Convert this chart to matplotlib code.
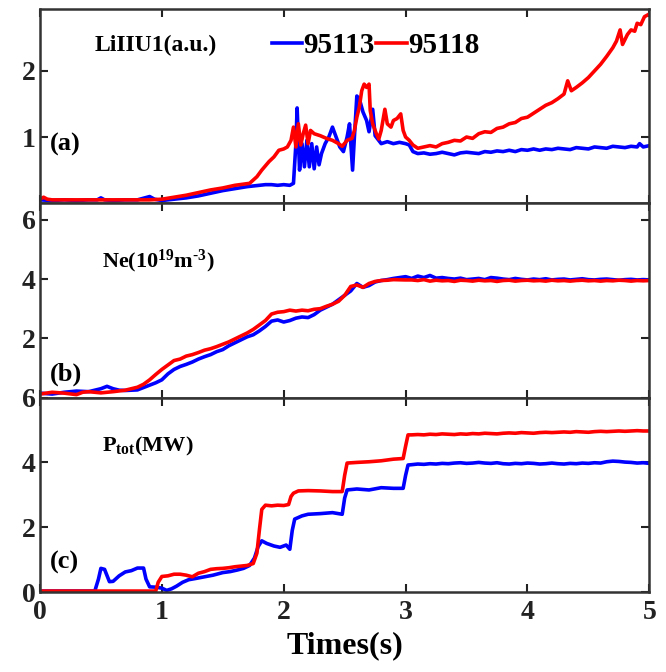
import matplotlib
matplotlib.use('Agg')

import matplotlib.pyplot as plt
import numpy as np

# ---- data ----
# (a) LiIIU1 (a.u.)
ta_113 = [0.0, 0.1, 0.2, 0.3, 0.4, 0.47, 0.5, 0.53, 0.6, 0.7, 0.8, 0.86, 0.9, 0.94, 1.0, 1.05, 1.1,
          1.2, 1.3, 1.4, 1.5, 1.6, 1.7, 1.8, 1.85, 1.9, 1.95, 2.0, 2.05, 2.08, 2.1, 2.11, 2.13, 2.15,
          2.17, 2.19, 2.21, 2.23, 2.25, 2.27, 2.29, 2.31, 2.34, 2.37, 2.4, 2.43, 2.46, 2.49, 2.52,
          2.54, 2.565, 2.58, 2.6, 2.62, 2.65, 2.68, 2.7, 2.73, 2.75, 2.8, 2.85, 2.9, 2.95, 3.0,
          3.03, 3.06, 3.1, 3.15, 3.2, 3.25, 3.3, 3.35, 3.4, 3.45, 3.5, 3.55, 3.6, 3.65, 3.7, 3.75,
          3.8, 3.85, 3.9, 3.95, 4.0, 4.05, 4.1, 4.15, 4.2, 4.25, 4.3, 4.35, 4.4, 4.45, 4.5, 4.55,
          4.6, 4.65, 4.7, 4.75, 4.8, 4.85, 4.9, 4.92, 4.95, 5.0]
la_113 = [0.05, 0.04, 0.05, 0.04, 0.05, 0.05, 0.08, 0.05, 0.04, 0.05, 0.05, 0.08, 0.1, 0.06, 0.04, 0.05, 0.06,
          0.08, 0.11, 0.15, 0.19, 0.22, 0.25, 0.27, 0.28, 0.28, 0.27, 0.28, 0.27, 0.3, 0.9, 1.44, 0.5, 0.9,
          0.55, 0.95, 0.55, 0.9, 0.52, 0.85, 0.58, 0.75, 0.9, 1.0, 1.15, 1.0, 0.85, 0.78, 1.0,
          1.2, 0.5, 1.0, 1.62, 1.58, 1.38, 1.25, 1.08, 1.42, 1.02, 0.9, 0.93, 0.9, 0.92, 0.9,
          0.88, 0.78, 0.75, 0.76, 0.74, 0.75, 0.77, 0.75, 0.73, 0.76, 0.77, 0.76, 0.75, 0.78, 0.77, 0.79,
          0.78, 0.8, 0.78, 0.81, 0.8, 0.82, 0.8, 0.82, 0.81, 0.83, 0.82, 0.81, 0.84, 0.83, 0.82, 0.85,
          0.84, 0.83, 0.86, 0.85, 0.84, 0.86, 0.85, 0.9, 0.85, 0.87]

ta_118 = [0.0, 0.03, 0.06, 0.1, 0.2, 0.3, 0.4, 0.5, 0.6, 0.7, 0.8, 0.9, 1.0, 1.1, 1.2, 1.3, 1.4,
          1.5, 1.6, 1.72, 1.78, 1.82, 1.88, 1.92, 1.96, 2.0, 2.03, 2.06, 2.08, 2.1, 2.12, 2.14,
          2.16, 2.18, 2.2, 2.22, 2.25, 2.3, 2.35, 2.4, 2.45, 2.48, 2.52, 2.56, 2.58, 2.6, 2.62,
          2.64, 2.66, 2.68, 2.7, 2.71, 2.73, 2.76, 2.78, 2.8, 2.83, 2.85, 2.88, 2.9, 2.93, 2.96,
          2.98, 3.0, 3.03, 3.06, 3.1, 3.15, 3.2, 3.25, 3.3, 3.35, 3.4, 3.45, 3.5, 3.55, 3.6,
          3.65, 3.7, 3.75, 3.8, 3.85, 3.9, 3.95, 4.0, 4.05, 4.1, 4.15, 4.2, 4.25, 4.3, 4.33,
          4.36, 4.4, 4.45, 4.5, 4.55, 4.6, 4.65, 4.7, 4.73, 4.76, 4.78, 4.82, 4.85, 4.88, 4.9,
          4.93, 4.96, 5.0]
la_118 = [0.06, 0.09, 0.06, 0.05, 0.05, 0.05, 0.05, 0.05, 0.05, 0.05, 0.05, 0.05, 0.06, 0.09, 0.12, 0.16, 0.2,
          0.23, 0.27, 0.3, 0.4, 0.5, 0.63, 0.7, 0.8, 0.82, 0.85, 0.95, 1.15, 0.85, 1.2, 0.88,
          1.05, 1.18, 0.9, 1.1, 1.05, 1.02, 0.98, 0.95, 0.9, 0.86, 0.95, 0.98, 1.1, 1.3, 1.45,
          1.7, 1.8, 1.75, 1.8, 1.4, 1.2, 1.05, 0.97, 1.1, 1.42, 1.2, 1.15, 1.25, 1.28, 1.35,
          1.1, 1.0, 0.95, 0.88, 0.83, 0.85, 0.87, 0.85, 0.9, 0.92, 0.95, 0.94, 1.0, 0.98, 1.05,
          1.08, 1.07, 1.13, 1.15, 1.2, 1.22, 1.28, 1.3, 1.36, 1.42, 1.48, 1.52, 1.58, 1.65, 1.85,
          1.7, 1.75, 1.82, 1.9, 2.0, 2.1, 2.22, 2.35, 2.45, 2.62, 2.4, 2.55, 2.62, 2.6, 2.72,
          2.7, 2.82, 2.86]

# flat tails of (b) and (c) are sampled every 0.05 s from 3.05 s to 5 s
t_tail = np.linspace(3.05, 5.0, 40)

# (b) Ne (1e19 m^-3)
tb_113 = [0.0, 0.1, 0.2, 0.3, 0.4, 0.5, 0.55, 0.6, 0.65, 0.7, 0.8, 0.9, 0.95, 1.0, 1.05, 1.1, 1.15,
          1.2, 1.25, 1.3, 1.35, 1.4, 1.45, 1.5, 1.55, 1.6, 1.65, 1.7, 1.75, 1.8, 1.85, 1.9, 1.95,
          2.0, 2.05, 2.1, 2.15, 2.2, 2.25, 2.3, 2.35, 2.4, 2.45, 2.5, 2.55, 2.6, 2.65, 2.7, 2.75,
          2.8, 2.85, 2.9, 2.95, 3.0]
nb_113 = [0.15, 0.12, 0.18, 0.22, 0.2, 0.3, 0.38, 0.3, 0.25, 0.24, 0.26, 0.42, 0.5, 0.6, 0.8, 0.95, 1.05,
          1.12, 1.2, 1.3, 1.38, 1.45, 1.55, 1.62, 1.75, 1.85, 1.95, 2.05, 2.12, 2.25, 2.4, 2.58, 2.62,
          2.55, 2.6, 2.68, 2.72, 2.7, 2.8, 2.95, 3.05, 3.15, 3.3, 3.45, 3.6, 3.85, 3.72, 3.78, 3.9,
          3.95, 3.98, 4.02, 4.05, 4.08]
nb_113_tail = [4.02, 4.1, 4.05, 4.12, 4.03, 4.05, 4.02, 4.0, 4.03, 3.98, 4.0, 4.02, 3.98, 4.05, 4.03,
               4.0, 3.98, 4.02, 3.99, 3.97, 4.0, 3.98, 4.01, 3.97, 3.99, 4.0, 3.97, 3.99, 4.01, 3.98,
               3.97, 3.99, 4.0, 3.98, 3.96, 3.98, 3.99, 3.97, 3.98, 3.97]

tb_118 = [0.0, 0.1, 0.2, 0.3, 0.35, 0.4, 0.5, 0.6, 0.7, 0.8, 0.85, 0.9, 0.95, 1.0, 1.05, 1.1, 1.15,
          1.2, 1.25, 1.3, 1.35, 1.4, 1.45, 1.5, 1.55, 1.6, 1.65, 1.7, 1.75, 1.8, 1.85, 1.9, 1.95,
          2.0, 2.05, 2.1, 2.15, 2.2, 2.25, 2.3, 2.35, 2.4, 2.45, 2.5, 2.55, 2.6, 2.65, 2.7, 2.75,
          2.8, 2.85, 2.9, 3.0]
nb_118 = [0.12, 0.18, 0.15, 0.1, 0.18, 0.2, 0.16, 0.2, 0.25, 0.35, 0.45, 0.6, 0.78, 0.95, 1.1, 1.25, 1.3,
          1.4, 1.45, 1.52, 1.6, 1.65, 1.72, 1.8, 1.88, 1.98, 2.08, 2.18, 2.3, 2.45, 2.6, 2.82, 2.88,
          2.9, 2.95, 2.92, 2.95, 2.93, 2.98, 3.0, 3.08, 3.15, 3.25, 3.45, 3.75, 3.8, 3.72, 3.85, 3.92,
          3.95, 3.96, 3.98, 3.97]
nb_118_tail = [3.97, 3.95, 3.98, 3.93, 3.96, 3.94, 3.95, 3.92, 3.96, 3.95, 3.93, 3.96, 3.94, 3.95, 3.92,
               3.95, 3.96, 3.93, 3.95, 3.96, 3.94, 3.95, 3.93, 3.96, 3.94, 3.95, 3.93, 3.95, 3.96, 3.94,
               3.95, 3.93, 3.95, 3.94, 3.96, 3.95, 3.93, 3.95, 3.94, 3.95]

# (c) Ptot (MW)
tc_113 = [0.0, 0.2, 0.45, 0.48, 0.5, 0.53, 0.57, 0.6, 0.65, 0.7, 0.75, 0.8, 0.85, 0.87, 0.9, 0.95,
          1.0, 1.04, 1.08, 1.12, 1.17, 1.22, 1.28, 1.35, 1.42, 1.5, 1.56, 1.62, 1.67, 1.72, 1.76,
          1.79, 1.82, 1.86, 1.92, 1.97, 2.02, 2.05, 2.07, 2.09, 2.15, 2.2, 2.3, 2.4, 2.48, 2.5,
          2.52, 2.6, 2.7, 2.8, 2.9, 2.98, 3.0, 3.02]
pc_113 = [0.03, 0.03, 0.03, 0.4, 0.73, 0.7, 0.32, 0.33, 0.5, 0.62, 0.66, 0.74, 0.74, 0.4, 0.16, 0.15,
          0.12, 0.05, 0.1, 0.18, 0.3, 0.38, 0.42, 0.47, 0.52, 0.6, 0.63, 0.68, 0.73, 0.82, 1.05,
          1.4, 1.58, 1.5, 1.42, 1.38, 1.45, 1.32, 1.9, 2.25, 2.35, 2.4, 2.42, 2.45, 2.4, 2.9,
          3.15, 3.18, 3.15, 3.22, 3.2, 3.2, 3.6, 3.92]
pc_113_tail = [3.93, 3.95, 3.94, 3.96, 3.95, 3.97, 3.96, 3.98, 3.99, 3.97, 3.98, 4.0, 3.98, 3.97, 3.99,
               3.96, 3.95, 3.97, 3.96, 3.98, 3.97, 3.95, 3.96, 3.98, 3.96, 3.95, 3.97, 3.96, 3.98, 3.97,
               3.99, 3.98, 4.02, 4.04, 4.03, 4.01, 4.0, 3.98, 3.99, 3.97]

tc_118 = [0.0, 0.5, 0.95, 0.97, 1.0, 1.05, 1.1, 1.15, 1.2, 1.25, 1.3, 1.35, 1.4, 1.45, 1.5, 1.55,
          1.6, 1.65, 1.7, 1.75, 1.78, 1.8, 1.82, 1.85, 1.9, 1.95, 2.0, 2.04, 2.06, 2.08, 2.12, 2.2,
          2.3, 2.4, 2.48, 2.5, 2.52, 2.6, 2.7, 2.8, 2.9, 2.98, 3.0, 3.02]
pc_118 = [0.03, 0.03, 0.03, 0.3, 0.48, 0.5, 0.55, 0.55, 0.52, 0.47, 0.58, 0.63, 0.7, 0.72, 0.73, 0.75,
          0.78, 0.8, 0.82, 0.88, 1.2, 1.9, 2.55, 2.68, 2.66, 2.68, 2.67, 2.7, 2.95, 3.05, 3.12, 3.13,
          3.12, 3.1, 3.1, 3.6, 3.98, 4.0, 4.02, 4.05, 4.1, 4.12, 4.5, 4.85]
pc_118_tail = [4.85, 4.86, 4.85, 4.87, 4.86, 4.88, 4.87, 4.86, 4.88, 4.87, 4.89, 4.88, 4.9, 4.89, 4.88,
               4.9, 4.91, 4.9, 4.92, 4.91, 4.9, 4.92, 4.93, 4.92, 4.93, 4.94, 4.93, 4.95, 4.94, 4.93,
               4.95, 4.96, 4.95, 4.96, 4.97, 4.96, 4.97, 4.98, 4.97, 4.97]

blue = '#0000ff'
red = '#ff0000'

plt.rcParams['font.family'] = ['Liberation Serif', 'DejaVu Serif']
plt.rcParams['font.weight'] = 'bold'
plt.rcParams['mathtext.fontset'] = 'custom'
plt.rcParams['mathtext.rm'] = 'Liberation Serif:bold'
plt.rcParams['mathtext.bf'] = 'Liberation Serif:bold'
plt.rcParams['mathtext.it'] = 'Liberation Serif:bold'

fig, axes = plt.subplots(3, 1, sharex=True, figsize=(6.66, 6.72), dpi=100)
fig.subplots_adjust(left=0.060, right=0.975, bottom=0.119, top=0.987, hspace=0)
ax_a, ax_b, ax_c = axes

lw = 2.6
ax_a.plot(ta_113, la_113, color=blue, lw=lw, label='95113')
ax_a.plot(ta_118, la_118, color=red, lw=lw, label='95118')
ax_b.plot(np.r_[tb_113, t_tail], np.r_[nb_113, nb_113_tail], color=blue, lw=lw)
ax_b.plot(np.r_[tb_118, t_tail], np.r_[nb_118, nb_118_tail], color=red, lw=lw)
ax_c.plot(np.r_[tc_113, t_tail], np.r_[pc_113, pc_113_tail], color=blue, lw=lw)
ax_c.plot(np.r_[tc_118, t_tail], np.r_[pc_118, pc_118_tail], color=red, lw=lw)

ax_a.set_ylim(0, 2.94)
ax_a.set_yticks([1, 2])
ax_b.set_ylim(0, 6.56)
ax_b.set_yticks([2, 4, 6])
ax_c.set_ylim(0, 6)
ax_c.set_yticks([0, 2, 4, 6])
ax_c.set_xlim(0, 5)
ax_c.set_xticks([0, 1, 2, 3, 4, 5])

for ax in axes:
    ax.tick_params(direction='in', top=True, right=True, length=6, width=1.5,
                   labelsize=20, pad=3, colors='#222222')
    ax.tick_params(axis='x', pad=6)
    for s in ax.spines.values():
        s.set_linewidth(1.8)
        s.set_color('#333333')
    for lab in ax.get_yticklabels() + ax.get_xticklabels():
        lab.set_fontweight('bold')

ax_c.set_xlabel('Times(s)', fontsize=23, fontweight='bold', labelpad=4)

ax_a.text(0.016, 0.30, '(a)', transform=ax_a.transAxes, fontsize=19, fontweight='bold', va='center')
ax_b.text(0.016, 0.12, '(b)', transform=ax_b.transAxes, fontsize=19, fontweight='bold', va='center')
ax_c.text(0.016, 0.15, '(c)', transform=ax_c.transAxes, fontsize=19, fontweight='bold', va='center')

ax_a.text(0.089, 0.81, 'LiIIU1(a.u.)', transform=ax_a.transAxes, fontsize=17, fontweight='bold', va='center')
ax_b.text(0.102, 0.70, r'Ne(10$^{19}$m$^{\text{-3}}$)', transform=ax_b.transAxes, fontsize=16,
          fontweight='bold', va='center')
ax_c.text(0.102, 0.75, r'P$_{tot}$(MW)', transform=ax_c.transAxes, fontsize=16, fontweight='bold',
          va='center')

ax_a.legend(loc='center left', bbox_to_anchor=(0.38, 0.81), ncol=2, frameon=False,
            fontsize=21, handlelength=1.05, handletextpad=0.05, columnspacing=0.05,
            borderpad=0, borderaxespad=0)

plt.savefig('out.png', dpi=100)
